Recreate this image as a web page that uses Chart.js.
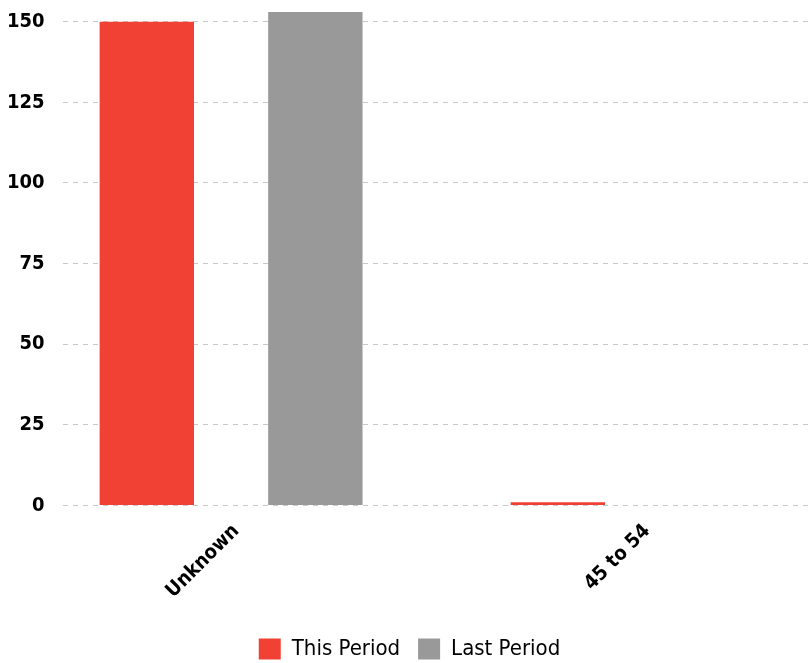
<!DOCTYPE html>
<html lang="en">
<head>
    <meta charset="UTF-8" />
    <title>This Period vs Last Period</title>
    <script src="https://cdn.jsdelivr.net/npm/chart.js"></script>
    <style>
        html, body { margin: 0; padding: 0; background: #fff; }
        .wrap { width: 809px; height: 663px; position: relative; }
    </style>
</head>
<body>
    <div class="wrap">
        <canvas id="barChart"></canvas>
    </div>

    <script>
        const categories = ["Unknown", "45 to 54"];
        const thisPeriod = [150, 1];
        const lastPeriod = [153, 0];

        const tickFont = { family: "'DejaVu Sans Condensed', 'DejaVu Sans', sans-serif", size: 20, weight: "bold" };
        const legendFont = { family: "'DejaVu Sans Condensed', 'DejaVu Sans', sans-serif", size: 22 };

        // x values are the category index, so the bars sit on the scale like the original
        const toPoints = arr => arr.map((v, i) => ({ x: i, y: v }));

        const ctx = document.getElementById("barChart").getContext("2d");

        new Chart(ctx, {
            type: "bar",
            data: {
                datasets: [
                    {
                        label: "This Period",
                        data: toPoints(thisPeriod),
                        backgroundColor: "#f04134",
                        categoryPercentage: 0.82,
                        barPercentage: 0.56
                    },
                    {
                        label: "Last Period",
                        data: toPoints(lastPeriod),
                        backgroundColor: "#999999",
                        categoryPercentage: 0.82,
                        barPercentage: 0.56
                    }
                ]
            },
            options: {
                responsive: true,
                maintainAspectRatio: false,
                animation: false,
                layout: { padding: { top: 0, right: -3, left: 7, bottom: -7 } },
                scales: {
                    x: {
                        type: "linear",
                        offset: false,
                        min: -0.41,
                        max: 1.406,
                        grid: { display: false, offset: false },
                        border: { display: false },
                        afterBuildTicks: axis => {
                            axis.ticks = categories.map((c, i) => ({ value: i }));
                        },
                        afterFit: axis => {
                            axis.height += 11;
                        },
                        ticks: {
                            stepSize: 1,
                            includeBounds: false,
                            autoSkip: false,
                            minRotation: 45,
                            maxRotation: 45,
                            padding: 6,
                            labelOffset: 5,
                            color: "#000",
                            font: tickFont,
                            callback: v => categories[v]
                        }
                    },
                    y: {
                        min: 0,
                        max: 153,
                        grid: {
                            color: "#c8c8c8",
                            drawTicks: true,
                            tickLength: 18,
                            tickColor: "rgba(0,0,0,0)"
                        },
                        border: { display: false, dash: [5, 5] },
                        ticks: {
                            stepSize: 25,
                            includeBounds: false,
                            padding: 0,
                            color: "#000",
                            font: tickFont
                        }
                    }
                },
                plugins: {
                    legend: {
                        display: true,
                        position: "bottom",
                        labels: {
                            boxWidth: 22,
                            boxHeight: 21,
                            padding: 18,
                            color: "#000",
                            font: legendFont
                        }
                    },
                    tooltip: { enabled: false }
                }
            }
        });
    </script>
</body>
</html>
